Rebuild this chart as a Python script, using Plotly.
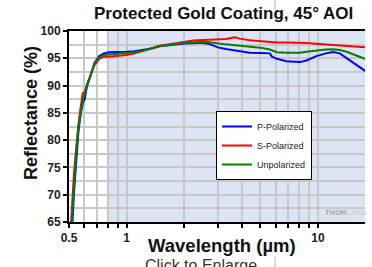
import math
import plotly.graph_objects as go

wavelength_um = [0.51, 0.52, 0.53, 0.54, 0.55, 0.56, 0.575, 0.59, 0.605, 0.62, 0.64, 0.68,
                 0.72, 0.76, 0.81, 0.9, 1.0, 1.1, 1.22, 1.35, 1.49, 1.65, 1.82, 2.0, 2.22,
                 2.45, 2.72, 3.0, 3.3, 3.68, 3.9, 4.4, 5.0, 5.6, 5.75, 6.1, 6.85, 8.05, 8.7,
                 9.8, 11.0, 12.0, 13.0, 14.1, 15.9, 17.6, 18.5]

p_polarized = [60.0, 64.0, 70.0, 74.5, 78.5, 81.5, 84.8, 86.8, 87.6, 89.8, 91.2, 94.2,
               95.4, 95.9, 96.1, 96.1, 96.2, 96.3, 96.5, 96.8, 97.2, 97.4, 97.6, 97.7, 97.75,
               97.85, 97.6, 97.0, 96.7, 96.45, 96.2, 96.0, 95.95, 95.9, 95.3, 94.9, 94.45, 94.3, 94.6,
               95.4, 95.9, 96.15, 95.9, 95.0, 93.8, 92.7, 92.2]

s_polarized = [63.5, 69.5, 73.5, 77.0, 80.2, 82.8, 86.0, 88.6, 88.8, 90.2, 91.4, 93.8,
               94.9, 95.3, 95.3, 95.4, 95.6, 95.9, 96.3, 96.8, 97.3, 97.5, 97.7, 98.0, 98.25,
               98.35, 98.35, 98.45, 98.55, 98.85, 98.6, 98.3, 98.1, 97.95, 97.9, 97.9, 97.9, 97.85, 97.8,
               97.65, 97.5, 97.4, 97.3, 97.2, 97.1, 97.0, 97.0]

unpolarized = [62.0, 67.0, 72.0, 76.0, 79.5, 82.3, 85.3, 87.3, 88.5, 90.0, 91.3, 94.1,
               95.2, 95.6, 95.7, 95.8, 96.0, 96.1, 96.4, 96.8, 97.25, 97.45, 97.65, 97.8, 97.9,
               98.0, 97.95, 97.7, 97.55, 97.4, 97.3, 97.15, 96.95, 96.6, 96.4, 96.1, 96.0, 96.0, 96.2,
               96.45, 96.6, 96.65, 96.5, 96.2, 95.5, 94.9, 94.6]

series_names = ["P-Polarized", "S-Polarized", "Unpolarized"]
series_colors = ["#0000ff", "#ff0000", "#008000"]

x_major = [0.5, 1, 10]
x_major_labels = ["0.5", "1", "10"]
x_minor = [0.6, 0.7, 0.8, 0.9, 2, 3, 4, 5, 6, 7, 8, 9]
y_major = [65, 70, 75, 80, 85, 90, 95, 100]

x_min, x_max = 0.5, 17.6
shade_start = 0.8

# plot area in window pixels
W, H = 372, 267
PL, PR, PT, PB = 69, 365, 31, 222
PW, PH = PR - PL, PB - PT


def px(xp):
    return (xp - PL) / PW


def py(yp):
    return (PB - yp) / PH


fig = go.Figure()
for name, vals, col in zip(series_names, [p_polarized, s_polarized, unpolarized], series_colors):
    fig.add_trace(go.Scatter(x=wavelength_um, y=vals, mode="lines", name=name,
                             line=dict(color=col, width=2)))

fig.add_shape(type="rect", xref="x", yref="paper", x0=shade_start, x1=x_max, y0=0, y1=1,
              fillcolor="#dce4f4", line=dict(width=0), layer="below")

# page artifacts
fig.add_shape(type="line", xref="paper", yref="paper", x0=px(275), x1=px(275), y0=py(257), y1=py(270),
              line=dict(color="#b0b0b0", width=1))
fig.add_shape(type="line", xref="paper", yref="paper", x0=px(275), x1=px(275), y0=py(-2), y1=py(10),
              line=dict(color="#b0b0b0", width=1))

font_family = "Arial, Liberation Sans, sans-serif"

fig.update_layout(
    width=W, height=H,
    margin=dict(l=PL, r=W - PR, t=PT, b=H - PB),
    paper_bgcolor="white", plot_bgcolor="white",
    font=dict(family=font_family, color="#111"),
    showlegend=True,
    legend=dict(x=px(216), y=py(111), xanchor="left", yanchor="top",
                bgcolor="white", bordercolor="black", borderwidth=1,
                font=dict(size=9, color="#222"), tracegroupgap=0,
                itemwidth=30),
    xaxis=dict(type="log", range=[math.log10(x_min), math.log10(x_max)],
               tickmode="array", tickvals=x_major, ticktext=x_major_labels,
               ticks="outside", ticklen=4, tickwidth=1.5, tickcolor="black",
               tickfont=dict(size=12, weight="bold", color="#222"),
               showline=True, linecolor="black", linewidth=2, mirror=True,
               showgrid=True, gridcolor="#c8c8c8", gridwidth=1.5,
               minor=dict(tickmode="array", tickvals=x_minor, ticks="outside", ticklen=4,
                          tickwidth=1.5, tickcolor="black", showgrid=True,
                          gridcolor="#c8c8c8", gridwidth=1.5),
               zeroline=False),
    yaxis=dict(range=[65, 100], tickmode="array", tickvals=y_major,
               ticks="outside", ticklen=4, tickwidth=1.5, tickcolor="black",
               tickfont=dict(size=12, weight="bold", color="#222"),
               showline=True, linecolor="black", linewidth=2,
               showgrid=True, gridcolor="#c8c8c8", gridwidth=1.5,
               minor=dict(dtick=2.5, tick0=65, ticks="", showgrid=True,
                          gridcolor="#c8c8c8", gridwidth=1.5),
               zeroline=False),
    annotations=[
        dict(text="Protected Gold Coating, 45° AOI", xref="paper", yref="paper",
             x=px(223), y=py(14), xanchor="center", yanchor="middle",
             showarrow=False, font=dict(size=17, weight="bold", color="#111")),
        dict(text="Reflectance (%)", xref="paper", yref="paper", textangle=-90,
             x=px(31), y=py(113), xanchor="center", yanchor="middle",
             showarrow=False, font=dict(size=18, weight="bold", color="#111")),
        dict(text="Wavelength (µm)", xref="paper", yref="paper",
             x=px(222), y=py(245), xanchor="center", yanchor="middle",
             showarrow=False, font=dict(size=18.5, weight="bold", color="#111")),
        dict(text="<span style='color:#a8a8a8'>THOR</span><span style='color:#d4d4d4'>LABS</span>",
             xref="paper", yref="paper", x=px(323), y=py(212),
             xanchor="left", yanchor="middle", showarrow=False,
             font=dict(size=7.5, weight="bold")),
        dict(text="Click to Enlarge", xref="paper", yref="paper",
             x=px(201), y=py(255), xanchor="center", yanchor="top",
             showarrow=False, font=dict(size=16, color="#333")),
    ],
)

fig.write_html("out.html", config={"displayModeBar": False},
               post_script="document.body.style.margin='0';")
